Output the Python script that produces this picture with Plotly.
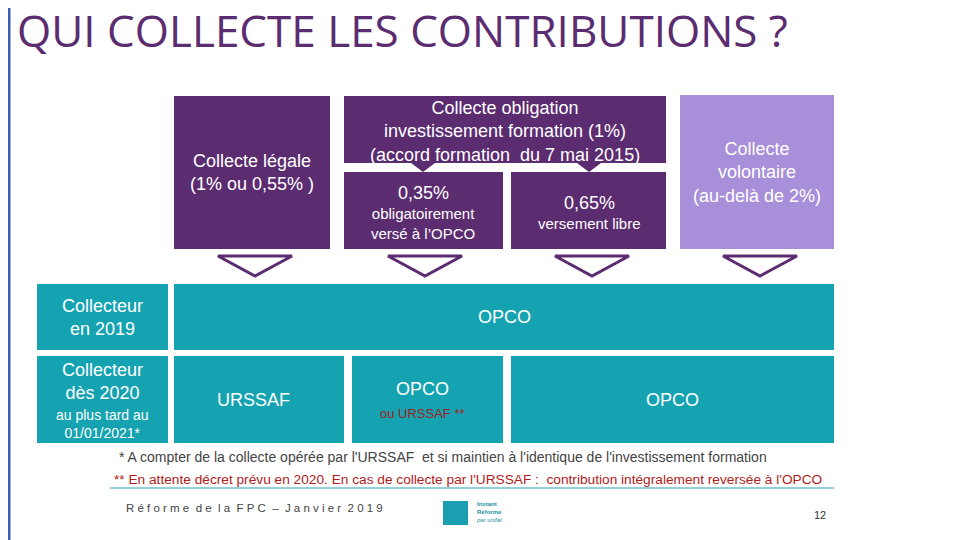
import plotly.graph_objects as go

title = "QUI COLLECTE LES CONTRIBUTIONS ?"
DP = "#5b2c6f"; LP = "#a78fd9"; TEAL = "#15a3b1"
boxes = [
    (174, 330, 96, 249, DP), (344, 666, 96, 163, DP), (344, 503, 172, 249, DP),
    (511, 666, 172, 249, DP), (680, 834, 95, 249, LP),
    (37, 168, 284, 350, TEAL), (174, 834, 284, 350, TEAL),
    (37, 168, 356, 443, TEAL), (174, 344, 356, 443, TEAL),
    (352, 503, 356, 443, TEAL), (511, 834, 356, 443, TEAL),
]
texts = [
    (252, 172, "Collecte légale<br>(1% ou 0,55% )", 18, "white", "center"),
    (505, 131, "Collecte obligation<br>investissement formation (1%)<br>(accord formation  du 7 mai 2015)", 18, "white", "center"),
    (423, 193, "0,35%", 18, "white", "center"),
    (423, 223, "obligatoirement<br>versé à l’OPCO", 15, "white", "center"),
    (589, 203, "0,65%", 18, "white", "center"),
    (589, 223, "versement libre", 15, "white", "center"),
    (757, 172, "Collecte<br>volontaire<br>(au-delà de 2%)", 18, "white", "center"),
    (102, 317, "Collecteur<br>en 2019", 18, "white", "center"),
    (504, 317, "OPCO", 18, "white", "center"),
    (102, 381, "Collecteur<br>dès 2020", 18, "white", "center"),
    (102, 424, "au plus tard au<br>01/01/2021*", 14, "white", "center"),
    (253, 400, "URSSAF", 18, "white", "center"),
    (422, 389, "OPCO", 18, "white", "center"),
    (422, 413, "ou URSSAF **", 13, "#a01d1d", "center"),
    (672, 400, "OPCO", 18, "white", "center"),
    (117, 457, "* A compter de la collecte opérée par l'URSSAF  et si maintien à l'identique de l'investissement formation", 14, "#444444", "left"),
    (112, 479, "** En attente décret prévu en 2020. En cas de collecte par l'URSSAF :  contribution intégralement reversée à l'OPCO", 13.7, "#b01c1c", "left"),
    (124, 508, "R é f o r m e  d e  l a  F P C  –  J a n v i e r  2 0 1 9", 11.5, "#444444", "left"),
    (474, 512, "<b>Instant<br>Réforme</b><br><i>par unifal</i>", 6, "#1a8fa0", "left"),
    (820, 515, "12", 11, "#333333", "center"),
]
chevron_x = [255, 425, 592, 760]

fig = go.Figure()
shapes = []
for x0, x1, y0, y1, c in boxes:
    shapes.append(dict(type="rect", x0=x0, x1=x1, y0=y0, y1=y1, fillcolor=c, line_width=0, layer="below"))
for cx in chevron_x:
    shapes.append(dict(type="path", path=f"M{cx-37},256 L{cx+37},256 L{cx},276 Z",
                       fillcolor="white", line=dict(color=DP, width=3)))
for cx in [423, 589]:
    shapes.append(dict(type="path", path=f"M{cx-12},163 L{cx+12},163 L{cx},172 Z", fillcolor=DP, line_width=0))
shapes.append(dict(type="line", x0=110, x1=834, y0=488, y1=488, line=dict(color="#2a9fb0", width=1)))
shapes.append(dict(type="line", x0=9, x1=9, y0=8, y1=548, line=dict(color="#3a5fb0", width=3)))
shapes.append(dict(type="rect", x0=443, x1=468, y0=501, y1=525, fillcolor="#1a9fb0", line_width=0))
fig.update_layout(shapes=shapes)

ann = [dict(x=15, y=30, text=title, showarrow=False, xanchor="left", yanchor="middle",
            font=dict(size=44, color="#5b2c6f", family="Open Sans"))]
for x, y, t, s, c, a in texts:
    ann.append(dict(x=x, y=y, text=t, showarrow=False, xanchor=a, yanchor="middle", align=a,
                    font=dict(size=s, color=c, family="Liberation Sans")))
fig.update_layout(annotations=ann, width=960, height=540, margin=dict(l=0, r=0, t=0, b=0),
                  plot_bgcolor="white", paper_bgcolor="white", showlegend=False,
                  xaxis=dict(range=[8, 968], visible=False, fixedrange=True),
                  yaxis=dict(range=[548, 8], visible=False, fixedrange=True))
fig.write_html("out.html", config={"displayModeBar": False})
